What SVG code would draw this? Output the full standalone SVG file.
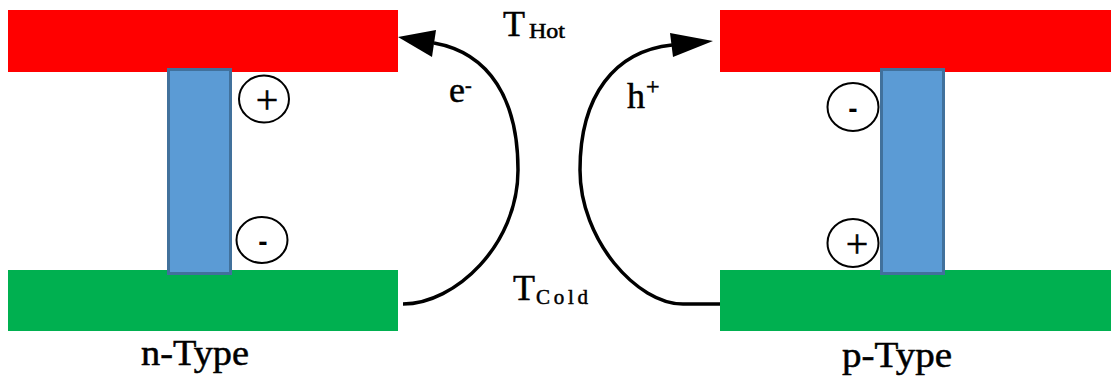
<svg xmlns="http://www.w3.org/2000/svg" width="1111" height="376" viewBox="0 0 1111 376">
<style>
.hot{fill:#FF0000}
.cold{fill:#00B050}
.leg{fill:#5B9BD5;stroke:#41719C;stroke-width:3}
.chg{fill:#fff;stroke:#000;stroke-width:2}
.t{font-family:"Liberation Serif",serif;fill:#000;stroke:#000;stroke-width:0.5}
.m{font-family:"Liberation Sans",sans-serif;font-weight:bold;fill:#000}
.arc{fill:none;stroke:#000;stroke-width:3.5}
</style>
<rect width="1111" height="376" fill="#fff"/>
<g id="n-type">
<rect class="hot" x="8" y="10" width="390" height="62"/>
<rect class="cold" x="8" y="270" width="390" height="61"/>
<rect class="leg" x="168.5" y="69.5" width="62" height="204"/>
<ellipse class="chg" cx="264" cy="99" rx="25" ry="23.5"/>
<text class="t" x="267" y="113" font-size="40" text-anchor="middle" stroke-width="0">+</text>
<ellipse class="chg" cx="262" cy="240" rx="25.5" ry="23"/>
<text class="m" x="263" y="251" font-size="28" text-anchor="middle">-</text>
<text class="t" x="141" y="365" font-size="35" textLength="108" lengthAdjust="spacingAndGlyphs">n-Type</text>
</g>
<g id="p-type">
<rect class="hot" x="720" y="10" width="391" height="62"/>
<rect class="cold" x="720" y="270" width="391" height="61"/>
<rect class="leg" x="881.5" y="69.5" width="62" height="204"/>
<ellipse class="chg" cx="853" cy="107" rx="25.5" ry="24"/>
<text class="m" x="853" y="118" font-size="28" text-anchor="middle">-</text>
<ellipse class="chg" cx="853" cy="243" rx="25.5" ry="24"/>
<text class="t" x="857" y="257" font-size="40" text-anchor="middle" stroke-width="0">+</text>
<text class="t" x="842" y="367" font-size="35" textLength="110" lengthAdjust="spacingAndGlyphs">p-Type</text>
</g>
<g id="labels">
<text class="t" x="503" y="36" font-size="36">T</text>
<text class="t" x="529" y="38" font-size="20" textLength="36" lengthAdjust="spacingAndGlyphs">Hot</text>
<text class="t" x="513" y="300" font-size="36">T</text>
<text class="t" x="536" y="304" font-size="21" textLength="52" lengthAdjust="spacing">Cold</text>
</g>
<g id="connectors">
<path class="arc" d="M403,304 C455,304 518,245 518,170 C518,100 490,53 434,43"/>
<polygon points="398,37 436,30 432,57" fill="#000"/>
<path class="arc" d="M720,304 L683,304 C637,304 580,240 580,170 C580,95 615,51 672,45"/>
<polygon points="713,41 670,33 673,57" fill="#000"/>
<text class="t" x="449" y="102" font-size="36">e</text>
<text class="t" x="465" y="92" font-size="20">-</text>
<text class="t" x="627" y="108" font-size="36">h</text>
<text class="t" x="646" y="94" font-size="24" stroke-width="0">+</text>
</g>
</svg>
